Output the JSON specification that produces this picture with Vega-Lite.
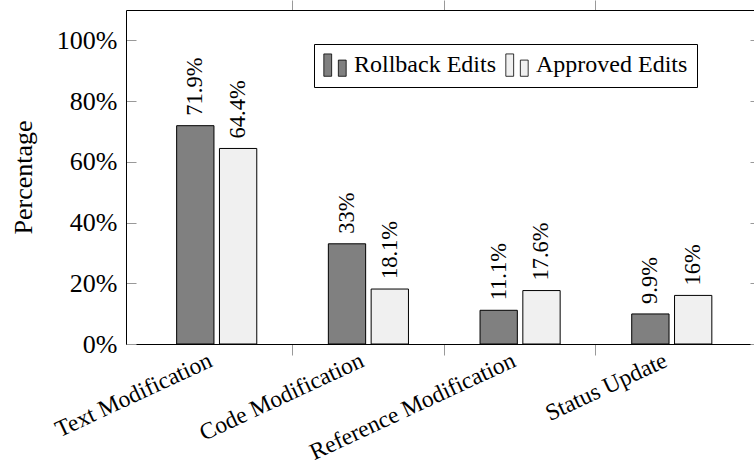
{
  "$schema": "https://vega.github.io/schema/vega-lite/v6.json",
  "width": 628,
  "height": 334,
  "autosize": {"type": "none"},
  "padding": {"left": 126, "top": 10, "right": 0, "bottom": 121},
  "background": "white",
  "config": {"font": "Liberation Serif", "view": {"stroke": null}},
  "data": {
    "values": [
      {"category": "Text Modification", "series": "Rollback Edits", "value": 71.9},
      {"category": "Text Modification", "series": "Approved Edits", "value": 64.4},
      {"category": "Code Modification", "series": "Rollback Edits", "value": 33},
      {"category": "Code Modification", "series": "Approved Edits", "value": 18.1},
      {"category": "Reference Modification", "series": "Rollback Edits", "value": 11.1},
      {"category": "Reference Modification", "series": "Approved Edits", "value": 17.6},
      {"category": "Status Update", "series": "Rollback Edits", "value": 9.9},
      {"category": "Status Update", "series": "Approved Edits", "value": 16}
    ]
  },
  "layer": [
    {
      "mark": {"type": "bar", "stroke": "black", "strokeWidth": 1},
      "encoding": {
        "x": {
          "field": "category", "type": "nominal",
          "sort": ["Text Modification", "Code Modification", "Reference Modification", "Status Update"],
          "scale": {"paddingInner": 0, "paddingOuter": 0.07, "align": 0.7},
          "axis": {
            "orient": "bottom", "title": null, "bandPosition": 0, "labelOffset": -11,
            "labelAngle": -25, "labelAlign": "right", "labelBaseline": "top",
            "labelFontSize": 23.5, "labelColor": "black", "labelPadding": -7, "labelLimit": 0,
            "tickSize": 11, "tickColor": "#999",
            "tickOpacity": {"condition": {"test": "datum.value === 'Text Modification'", "value": 0}, "value": 1},
            "domainColor": "black", "domainWidth": 1, "grid": false
          }
        },
        "xOffset": {
          "field": "series", "type": "nominal",
          "sort": ["Rollback Edits", "Approved Edits"],
          "scale": {"paddingInner": 0.1285, "paddingOuter": 0.836}
        },
        "y": {
          "field": "value", "type": "quantitative",
          "scale": {"domain": [0, 110], "nice": false},
          "axis": {
            "orient": "left", "values": [0, 20, 40, 60, 80, 100],
            "labelExpr": "datum.value + '%'", "tickSize": -10, "tickColor": "#999",
            "domainColor": "black", "labelFontSize": 26, "labelColor": "black", "labelPadding": 19,
            "title": "Percentage", "titleFontSize": 26, "titleFontWeight": "normal", "titleColor": "black",
            "titlePadding": 20, "grid": false
          }
        },
        "color": {
          "field": "series", "type": "nominal",
          "scale": {"domain": ["Rollback Edits", "Approved Edits"], "range": ["#808080", "#f0f0f0"]},
          "legend": {
            "title": null, "orient": "none", "direction": "horizontal",
            "legendX": 188, "legendY": 34,
            "strokeColor": "black", "padding": 9,
            "symbolType": "M-1,-1H-0.3V1H-1Z M0.3,-0.45H1V1H0.3Z",
            "symbolSize": 500, "symbolStrokeColor": "black", "symbolStrokeWidth": 0.8,
            "labelFontSize": 24, "labelColor": "black", "labelOffset": 7, "columnPadding": 8
          }
        }
      }
    },
    {
      "mark": {"type": "text", "angle": -90, "align": "left", "baseline": "middle", "dx": 10, "fontSize": 22.5, "color": "black", "text": {"expr": "datum.value + '%'"}},
      "encoding": {
        "x": {
          "field": "category", "type": "nominal",
          "sort": ["Text Modification", "Code Modification", "Reference Modification", "Status Update"],
          "axis": {
            "orient": "top", "title": null, "bandPosition": 0, "labels": false,
            "values": ["Code Modification", "Reference Modification", "Status Update"],
            "tickSize": 10, "tickColor": "#999", "domainColor": "black", "grid": false
          }
        },
        "xOffset": {"field": "series", "type": "nominal", "sort": ["Rollback Edits", "Approved Edits"]},
        "y": {
          "field": "value", "type": "quantitative",
          "axis": {
            "orient": "right", "values": [0, 20, 40, 60, 80, 100], "labels": false, "domain": false,
            "tickSize": -4, "tickColor": "#999", "title": null, "grid": false
          }
        }
      }
    }
  ],
  "resolve": {"axis": {"x": "independent", "y": "independent"}}
}
